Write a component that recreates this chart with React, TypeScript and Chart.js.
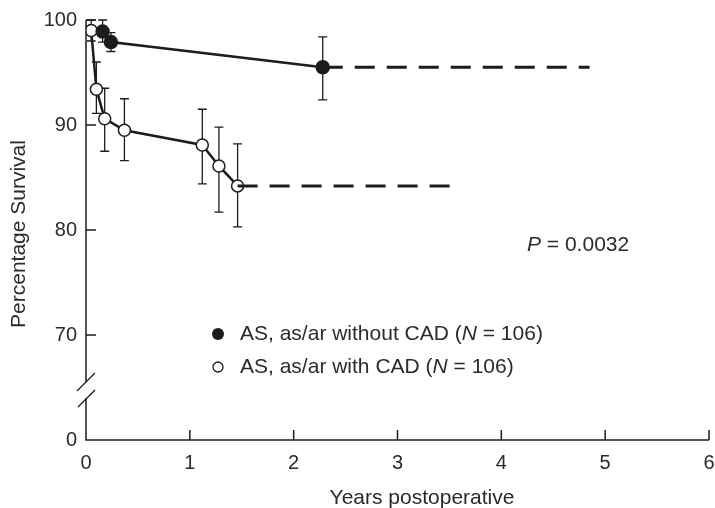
import React, { useEffect, useRef } from "react";
import { Chart, registerables } from "chart.js";

Chart.register(...registerables);

// Data
const withoutX = [0.16, 0.24, 2.28];
const withoutY = [98.9, 97.9, 95.5];
const withoutHi = [100, 98.8, 98.4];
const withoutLo = [97.9, 97.0, 92.4];
const withoutDashEnd = 4.85;

const withX = [0.05, 0.1, 0.18, 0.37, 1.12, 1.28, 1.46];
const withY = [99.0, 93.4, 90.6, 89.5, 88.1, 86.1, 84.2];
const withHi = [100, 96.0, 93.5, 92.5, 91.5, 89.8, 88.2];
const withLo = [98.0, 91.1, 87.5, 86.6, 84.4, 81.7, 80.3];
const withDashEnd = 3.52;

const yTickValues = [60, 70, 80, 90, 100];
const yTickLabels = ["0", "70", "80", "90", "100"];
const xTickValues = [0, 1, 2, 3, 4, 5, 6];

const legendLabels = ["AS, as/ar without CAD (", "AS, as/ar with CAD ("];
const legendN = "N";
const legendTail = " = 106)";
const pLabel = "P";
const pValue = " = 0.0032";
const xTitle = "Years postoperative";
const yTitle = "Percentage Survival";

const INK = "#1c1c1c";
const TEXT = "#2b2b2b";
const FONT = "Liberation Sans, Arial, sans-serif";
const FS = 21;

export default function App() {
  const ref = useRef<HTMLCanvasElement>(null);
  useEffect(() => {
    const canvas = ref.current!;
    const errPlugin = {
      id: "custom",
      beforeDatasetsDraw(chart: any) {
        const { ctx, scales } = chart;
        const xs = scales.x, ys = scales.y;
        ctx.save();
        ctx.strokeStyle = INK;
        ctx.lineWidth = 1.3;
        const draw = (X: number[], hi: number[], lo: number[]) => {
          X.forEach((x, i) => {
            const px = xs.getPixelForValue(x);
            const pt = ys.getPixelForValue(hi[i]);
            const pb = ys.getPixelForValue(lo[i]);
            ctx.beginPath();
            ctx.moveTo(px, pt);
            ctx.lineTo(px, pb);
            ctx.moveTo(px - 4.5, pt);
            ctx.lineTo(px + 4.5, pt);
            ctx.moveTo(px - 4.5, pb);
            ctx.lineTo(px + 4.5, pb);
            ctx.stroke();
          });
        };
        draw(withoutX, withoutHi, withoutLo);
        draw(withX, withHi, withLo);
        ctx.restore();
      },
      afterDraw(chart: any) {
        const { ctx, scales, chartArea } = chart;
        const xs = scales.x, ys = scales.y;
        const L = chartArea.left, R = chartArea.right, T = chartArea.top, B = chartArea.bottom;
        ctx.save();
        ctx.strokeStyle = INK;
        ctx.lineWidth = 1.5;
        // y axis with break
        const brk1 = B - 58, brk2 = B - 42;
        ctx.beginPath();
        ctx.moveTo(L, T);
        ctx.lineTo(L, brk1);
        ctx.moveTo(L, brk2);
        ctx.lineTo(L, B);
        ctx.lineTo(R, B);
        ctx.stroke();
        ctx.lineWidth = 1.3;
        ctx.beginPath();
        ctx.moveTo(L - 9, brk1 + 9);
        ctx.lineTo(L + 9, brk1 - 9);
        ctx.moveTo(L - 8, brk2 + 9);
        ctx.lineTo(L + 9, brk2 - 8);
        ctx.stroke();
        // inward ticks
        ctx.lineWidth = 1.5;
        ctx.beginPath();
        yTickValues.forEach((v) => {
          if (v === 60) return;
          const p = ys.getPixelForValue(v);
          ctx.moveTo(L, p);
          ctx.lineTo(L + 10, p);
        });
        xTickValues.forEach((v) => {
          if (v === 0) return;
          const p = xs.getPixelForValue(v);
          ctx.moveTo(p, B);
          ctx.lineTo(p, B - 10);
        });
        ctx.stroke();

        // titles
        ctx.fillStyle = TEXT;
        ctx.font = `${FS}px ${FONT}`;
        ctx.textAlign = "center";
        ctx.textBaseline = "middle";
        ctx.fillText(xTitle, 422, 498);
        ctx.save();
        ctx.translate(19, 234);
        ctx.rotate(-Math.PI / 2);
        ctx.fillText(yTitle, 0, 0);
        ctx.restore();

        // legend
        const rows = [
          { y: 334, filled: true, label: legendLabels[0] },
          { y: 367, filled: false, label: legendLabels[1] },
        ];
        ctx.textAlign = "left";
        rows.forEach((r) => {
          ctx.beginPath();
          ctx.arc(218, r.y, r.filled ? 6 : 5, 0, Math.PI * 2);
          ctx.lineWidth = 1.3;
          if (r.filled) {
            ctx.fillStyle = INK;
            ctx.fill();
          } else {
            ctx.fillStyle = "#fff";
            ctx.fill();
            ctx.strokeStyle = INK;
            ctx.stroke();
          }
          ctx.fillStyle = TEXT;
          let x = 240;
          ctx.font = `${FS}px ${FONT}`;
          ctx.fillText(r.label, x, r.y);
          x += ctx.measureText(r.label).width;
          ctx.font = `italic ${FS}px ${FONT}`;
          ctx.fillText(legendN, x, r.y);
          x += ctx.measureText(legendN).width;
          ctx.font = `${FS}px ${FONT}`;
          ctx.fillText(legendTail, x, r.y);
        });

        // P value
        let px = 527;
        ctx.font = `italic ${FS}px ${FONT}`;
        ctx.fillText(pLabel, px, 245);
        px += ctx.measureText(pLabel).width;
        ctx.font = `${FS}px ${FONT}`;
        ctx.fillText(pValue, px, 245);
        ctx.restore();
      },
    };

    const chart = new Chart(canvas, {
      type: "scatter",
      data: {
        datasets: [
          {
            label: "without dash",
            data: [
              { x: withoutX[withoutX.length - 1], y: withoutY[withoutY.length - 1] },
              { x: withoutDashEnd, y: withoutY[withoutY.length - 1] },
            ],
            showLine: true,
            borderColor: INK,
            borderWidth: 3,
            borderDash: [20, 12],
            pointRadius: 0,
          },
          {
            label: "with dash",
            data: [
              { x: withX[withX.length - 1], y: withY[withY.length - 1] },
              { x: withDashEnd, y: withY[withY.length - 1] },
            ],
            showLine: true,
            borderColor: INK,
            borderWidth: 3,
            borderDash: [20, 12],
            pointRadius: 0,
          },
          {
            label: "AS, as/ar without CAD",
            data: withoutX.map((x, i) => ({ x, y: withoutY[i] })),
            showLine: true,
            borderColor: INK,
            borderWidth: 2.5,
            backgroundColor: INK,
            pointBackgroundColor: INK,
            pointBorderColor: INK,
            pointRadius: 6,
          },
          {
            label: "AS, as/ar with CAD",
            data: withX.map((x, i) => ({ x, y: withY[i] })),
            showLine: true,
            borderColor: INK,
            borderWidth: 2.5,
            pointBackgroundColor: "#ffffff",
            pointBorderColor: INK,
            pointBorderWidth: 1.5,
            pointRadius: 6,
          },
        ],
      },
      options: {
        responsive: false,
        animation: false,
        layout: { autoPadding: false, padding: { left: 0, right: 6, top: 20, bottom: 0 } },
        plugins: { legend: { display: false }, tooltip: { enabled: false } },
        scales: {
          x: {
            type: "linear",
            min: 0,
            max: 6,
            afterBuildTicks: (s: any) => {
              s.ticks = xTickValues.map((v) => ({ value: v }));
            },
            afterFit: (s: any) => {
              s.height = 68;
              s.paddingLeft = 0;
              s.paddingRight = 0;
            },
            grid: { display: false, drawTicks: false },
            border: { display: false },
            ticks: {
              padding: 11,
              color: TEXT,
              font: { family: FONT, size: FS - 1 },
              maxRotation: 0,
              callback: (v: any) => String(v),
            },
          },
          y: {
            type: "linear",
            min: 60,
            max: 100,
            afterBuildTicks: (s: any) => {
              s.ticks = yTickValues.map((v) => ({ value: v }));
            },
            afterFit: (s: any) => {
              s.width = 86;
              s.paddingTop = 0;
              s.paddingBottom = 0;
            },
            grid: { display: false, drawTicks: false },
            border: { display: false },
            ticks: {
              padding: 9,
              color: TEXT,
              font: { family: FONT, size: FS - 1 },
              callback: (v: any) => yTickLabels[yTickValues.indexOf(Number(v))] ?? "",
            },
          },
        },
      },
      plugins: [errPlugin],
    } as any);
    return () => chart.destroy();
  }, []);
  return (
    <div style={{ position: "absolute", left: 0, top: 0, width: 715, height: 508, background: "#fff" }}>
      <canvas ref={ref} width={715} height={508} />
    </div>
  );
}
